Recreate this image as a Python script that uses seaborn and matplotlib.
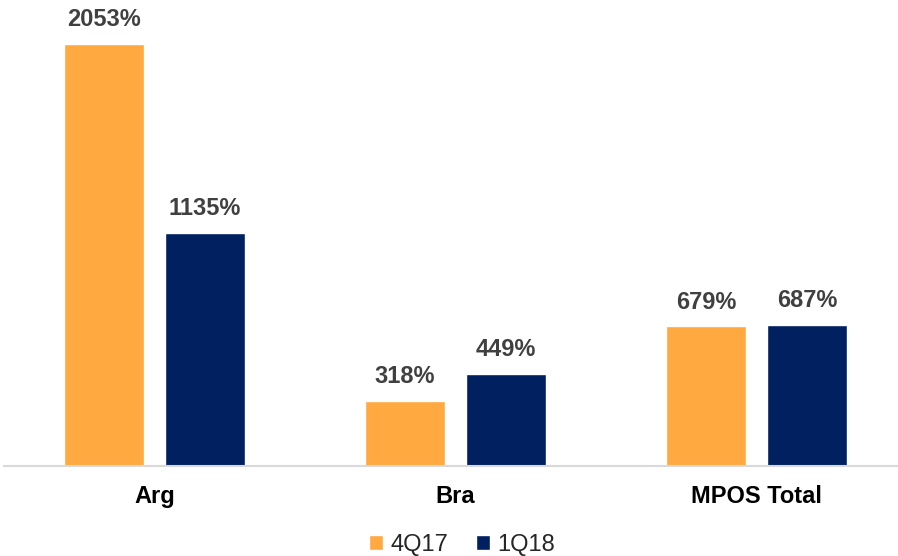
import pandas as pd
import numpy as np
import matplotlib.pyplot as plt
import seaborn as sns
from matplotlib.patches import Patch

# Chart values
categories = ['Arg', 'Bra', 'MPOS Total']
periods = ['4Q17', '1Q18']
values_4q17 = [2053, 318, 679]
values_1q18 = [1135, 449, 687]
colors = ['#FFA940', '#002060']

data = pd.DataFrame({
    'category': categories * 2,
    'period': [periods[0]] * 3 + [periods[1]] * 3,
    'value': values_4q17 + values_1q18,
})

sns.set_style('white')
plt.rcParams['font.family'] = ['Liberation Sans', 'DejaVu Sans']

fig = plt.figure(figsize=(8.98, 5.56), dpi=100)
ax = fig.add_axes([4 / 898, 90 / 556, 903 / 898, 466 / 556])

sns.barplot(data=data, x='category', y='value', hue='period', order=categories,
            hue_order=periods, palette=colors, width=0.671, gap=0.207,
            saturation=1, ax=ax, legend=False)

ax.set_ylim(0, 2053 * 466 / 422)
ax.set_xlim(-0.5, 2.5)

# Value labels above bars
for container in ax.containers:
    ax.bar_label(container, labels=[f'{v:.0f}%' for v in container.datavalues],
                 padding=9, fontsize=17, fontweight='bold', color='#404040')

# Axis styling
for side in ['top', 'right', 'left']:
    ax.spines[side].set_visible(False)
ax.spines['bottom'].set_color('#D9D9D9')
ax.spines['bottom'].set_linewidth(1.5)
ax.set_yticks([])
ax.set_xlabel('')
ax.set_ylabel('')
ax.tick_params(axis='x', length=0, pad=14)
for lbl in ax.get_xticklabels():
    lbl.set_fontsize(17)
    lbl.set_fontweight('bold')
    lbl.set_color('black')

handles = [Patch(facecolor=c, label=p) for c, p in zip(colors, periods)]
fig.legend(handles=handles, loc='center', bbox_to_anchor=(462 / 898, 1 - 545 / 556),
           ncol=2, frameon=False, fontsize=17, handlelength=0.6, handleheight=0.6,
           handletextpad=0.3, columnspacing=1.2, borderaxespad=0)

fig.savefig('out.png', dpi=100)
